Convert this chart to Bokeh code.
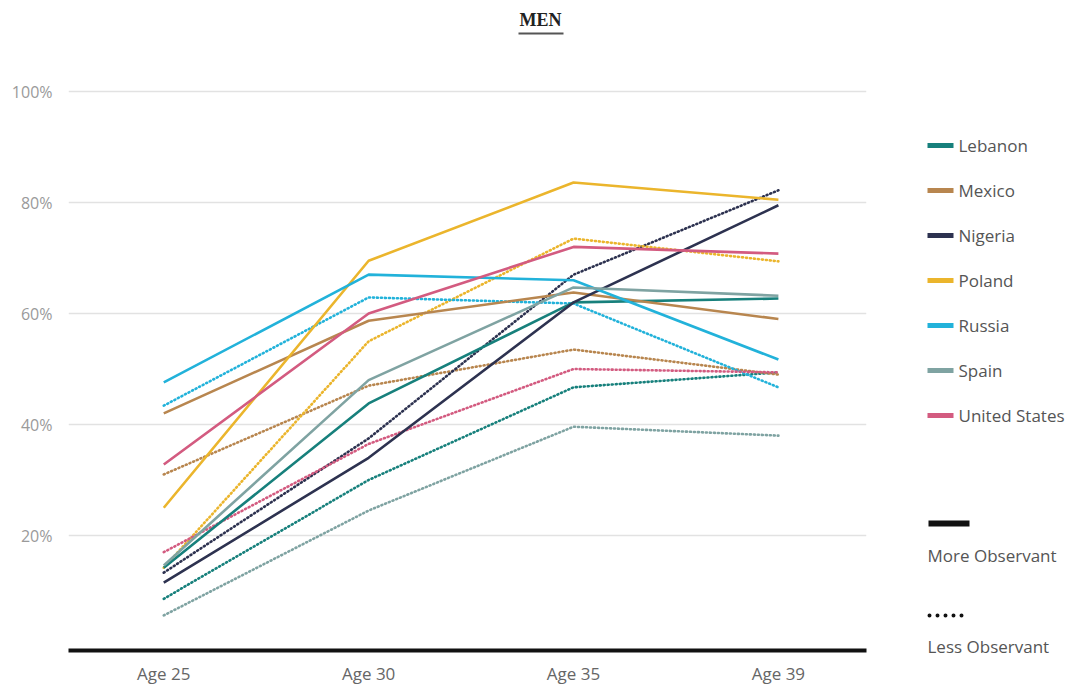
from bokeh.plotting import figure
from bokeh.models import Range1d, FixedTicker, PrintfTickFormatter, ColumnDataSource
from bokeh.layouts import row, column
from bokeh.core.properties import value
from bokeh.embed import file_html
from bokeh.resources import INLINE

ages = ["Age 25", "Age 30", "Age 35", "Age 39"]
countries = ["Lebanon", "Mexico", "Nigeria", "Poland", "Russia", "Spain", "United States"]
colors = ["#17807c", "#b8864f", "#2d3250", "#ebb52c", "#22b2da", "#7fa3a2", "#d35b80"]

more_lebanon = [14.2, 43.8, 62.0, 62.7]
more_mexico = [42.0, 58.7, 63.8, 59.0]
more_nigeria = [11.5, 34.0, 62.0, 79.5]
more_poland = [25.0, 69.5, 83.6, 80.5]
more_russia = [47.6, 67.0, 66.0, 51.7]
more_spain = [14.6, 48.0, 64.7, 63.2]
more_us = [32.8, 60.0, 72.0, 70.8]

less_lebanon = [8.6, 30.0, 46.7, 49.4]
less_mexico = [31.0, 47.0, 53.5, 49.0]
less_nigeria = [13.3, 37.5, 67.0, 82.2]
less_poland = [14.2, 55.0, 73.5, 69.4]
less_russia = [43.4, 62.9, 61.8, 46.7]
less_spain = [5.6, 24.5, 39.6, 38.0]
less_us = [17.0, 36.5, 50.0, 49.4]

more_observant = [more_lebanon, more_mexico, more_nigeria, more_poland, more_russia, more_spain, more_us]
less_observant = [less_lebanon, less_mexico, less_nigeria, less_poland, less_russia, less_spain, less_us]
y_ticks = [20, 40, 60, 80, 100]

FONT = "Open Sans"

# ---- title strip ----
t = figure(frame_width=1071, frame_height=45, min_border=0, output_backend="svg",
           toolbar_location=None, x_range=Range1d(0, 1071), y_range=Range1d(45, 0),
           x_axis_location=None, y_axis_location=None)
t.grid.visible = False
t.outline_line_color = None
t.text(x=[540], y=[19], text=["MEN"], text_align="center", text_baseline="middle",
       text_font=value("Liberation Serif"), text_font_style="bold", text_font_size="18px",
       text_color="#222222")
t.segment(x0=[518], y0=[33], x1=[563], y1=[33], line_color="#555555", line_width=2)

# ---- main plot ----
x_idx = list(range(len(ages)))
p = figure(frame_width=798, frame_height=587, min_border_left=68, min_border_right=34,
           min_border_top=18, min_border_bottom=38, output_backend="svg",
           toolbar_location=None, x_range=Range1d(-0.465, 3.43), y_range=Range1d(-0.72, 105.05),
           align="start")
p.outline_line_color = None
p.xgrid.visible = False
p.ygrid.grid_line_color = "#e2e2e2"
p.ygrid.grid_line_width = 1.5
p.ygrid.ticker = FixedTicker(ticks=y_ticks)

p.yaxis.ticker = FixedTicker(ticks=y_ticks)
p.yaxis.formatter = PrintfTickFormatter(format="%d%%")
p.yaxis.axis_line_color = None
p.yaxis.major_tick_line_color = None
p.yaxis.minor_tick_line_color = None
p.yaxis.major_tick_out = 0
p.yaxis.major_tick_in = 0
p.yaxis.minor_tick_out = 0
p.yaxis.major_label_standoff = 16
p.yaxis.major_label_text_font = FONT
p.yaxis.major_label_text_font_size = "16px"
p.yaxis.major_label_text_color = "#9a9a9a"

p.xaxis.ticker = FixedTicker(ticks=x_idx)
p.xaxis.major_label_overrides = {i: a for i, a in enumerate(ages)}
p.xaxis.axis_line_color = "#111111"
p.xaxis.axis_line_width = 4
p.xaxis.major_tick_line_color = None
p.xaxis.minor_tick_line_color = None
p.xaxis.major_tick_out = 0
p.xaxis.major_tick_in = 0
p.xaxis.minor_tick_out = 0
p.xaxis.major_label_standoff = 11
p.xaxis.major_label_text_font = FONT
p.xaxis.major_label_text_font_size = "17px"
p.xaxis.major_label_text_color = "#666666"

for vals, c in zip(less_observant, colors):
    p.line(x_idx, vals, line_color=c, line_width=2.6, line_dash="1 3", line_cap="round")
for vals, c in zip(more_observant, colors):
    p.line(x_idx, vals, line_color=c, line_width=2.6)

# ---- legend panel (coordinates = page pixels) ----
g = figure(frame_width=171, frame_height=625, min_border_left=0, min_border_right=0,
           min_border_top=18, min_border_bottom=0, output_backend="svg",
           toolbar_location=None, x_range=Range1d(900, 1071), y_range=Range1d(688, 63),
           x_axis_location=None, y_axis_location=None, align="start")
g.grid.visible = False
g.outline_line_color = None

ly = [145 + 45 * i for i in range(len(countries))]
src = ColumnDataSource(dict(y=ly, c=colors, label=countries))
g.rect(x=940, y="y", width=26, height=5, fill_color="c", line_color=None, source=src)
g.text(x=958, y="y", text="label", text_baseline="middle", text_font=value(FONT),
       text_font_size="17px", text_color="#555555", source=src)

g.segment(x0=[928], y0=[523], x1=[969], y1=[523], line_color="#111111", line_width=6)
g.text(x=[927], y=[555], text=["More Observant"], text_baseline="middle",
       text_font=value(FONT), text_font_size="17px", text_color="#555555")
g.segment(x0=[929], y0=[615], x1=[968], y1=[615], line_color="#111111", line_width=4,
          line_dash="0 8", line_cap="round")
g.text(x=[927], y=[646], text=["Less Observant"], text_baseline="middle",
       text_font=value(FONT), text_font_size="17px", text_color="#555555")

layout = column(t, row(p, g, spacing=0), spacing=0)
open("out.html", "w").write(file_html(layout, INLINE))
